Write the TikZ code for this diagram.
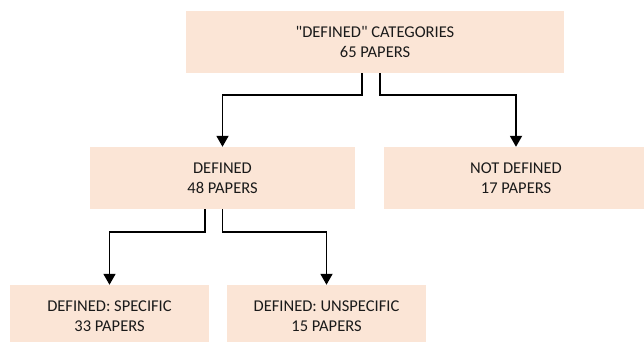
\documentclass[tikz,border=0pt]{standalone}
\usepackage{fontspec}
\setmainfont{Carlito}[Ligatures=TeXOff]
\usetikzlibrary{arrows.meta}
\definecolor{boxfill}{HTML}{FBE5D6}
\definecolor{txt}{HTML}{1A1A1A}
\tikzset{
  catbox/.style={fill=boxfill, draw=none, minimum height=62pt, inner sep=0pt, align=center,
    text=txt, font=\fontsize{16.5pt}{20pt}\selectfont},
  arr/.style={draw=black, line width=1.8pt, -{Triangle[width=12pt,length=11pt]}}
}
\begin{document}
\begin{tikzpicture}[x=1pt,y=-1pt]
\useasboundingbox (0,0) rectangle (644,342);
\node[catbox, minimum width=378pt] (top) at (375,42) {"DEFINED" CATEGORIES\\65 PAPERS};
\node[catbox, minimum width=265pt] (def) at (222.5,178) {DEFINED\\48 PAPERS};
\node[catbox, minimum width=264pt] (ndef) at (516,178) {NOT DEFINED\\17 PAPERS};
\node[catbox, minimum width=199pt] (spec) at (109.5,316) {DEFINED: SPECIFIC\\33 PAPERS};
\node[catbox, minimum width=199pt] (unspec) at (326.5,316) {DEFINED: UNSPECIFIC\\15 PAPERS};
\draw[arr] ([xshift=-13pt]top.south) -- ++(0,22) -| (def.north);
\draw[arr] ([xshift=5pt]top.south) -- ++(0,22) -| (ndef.north);
\draw[arr] ([xshift=-17.5pt]def.south) -- ++(0,23) -| (spec.north);
\draw[arr] (def.south) -- ++(0,23) -| (unspec.north);
\end{tikzpicture}
\end{document}
